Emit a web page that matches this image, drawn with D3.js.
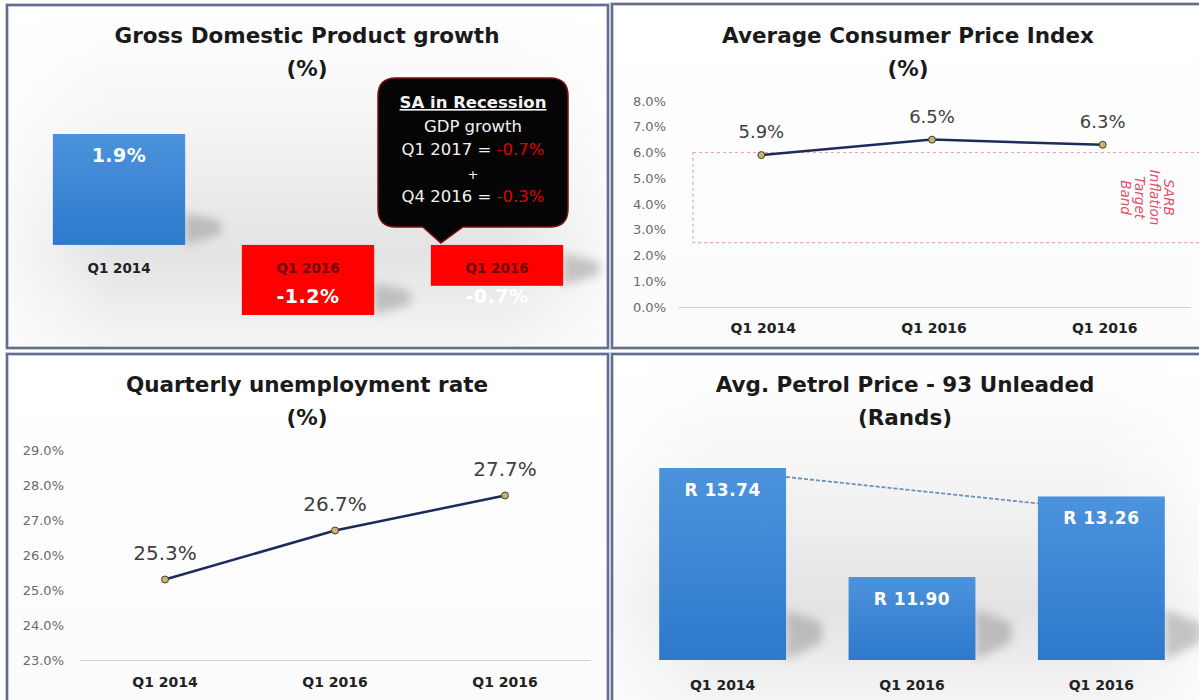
<!DOCTYPE html>
<html lang="en">
<head>
<meta charset="utf-8">
<title>SA economy dashboard</title>
<script src="https://cdn.jsdelivr.net/npm/d3@7"></script>
<style>
  body { margin: 0; background: #fff; }
  text { font-family: "DejaVu Sans", Verdana, sans-serif; }
</style>
</head>
<body>
<script>
// data
var gdpCats = ["Q1 2014", "Q1 2016", "Q1 2016"];
var gdpValues = [1.9, -1.2, -0.7];

var cpiCats = ["Q1 2014", "Q1 2016", "Q1 2016"];
var cpiValues = [5.9, 6.5, 6.3];
var cpiTicks = [0, 1, 2, 3, 4, 5, 6, 7, 8];
var cpiBand = [2.5, 6.0];

var unempCats = ["Q1 2014", "Q1 2016", "Q1 2016"];
var unempValues = [25.3, 26.7, 27.7];
var unempTicks = [23, 24, 25, 26, 27, 28, 29];

var petrolCats = ["Q1 2014", "Q1 2016", "Q1 2016"];
var petrolValues = [13.74, 11.90, 13.26];

var w = 1199, h = 700;
var svg = d3.select("body").append("svg")
    .attr("width", w).attr("height", h);
var defs = svg.append("defs");

// gradients
function vgrad(id, stops) {
    var g = defs.append("linearGradient").attr("id", id)
        .attr("x1", 0).attr("y1", 0).attr("x2", 0).attr("y2", 1);
    stops.forEach(function (s) {
        g.append("stop").attr("offset", s[0]).attr("stop-color", s[1])
            .attr("stop-opacity", s[2] == null ? 1 : s[2]);
    });
}
vgrad("bgGrey", [[0, "#ffffff"], [0.3, "#f7f7f7"], [0.72, "#e3e3e3"], [1, "#f5f5f5"]]);
vgrad("bgLight", [[0, "#ffffff"], [1, "#fbfbfb"]]);
vgrad("blueBar", [[0, "#4c93dc"], [1, "#2e79cc"]]);
var hg = defs.append("linearGradient").attr("id", "edgeFade")
    .attr("x1", 0).attr("y1", 0).attr("x2", 1).attr("y2", 0);
[[0, 0.75], [0.18, 0], [0.82, 0], [1, 0.75]].forEach(function (s) {
    hg.append("stop").attr("offset", s[0]).attr("stop-color", "#fff").attr("stop-opacity", s[1]);
});
defs.append("filter").attr("id", "blur").attr("x", "-50%").attr("y", "-50%")
    .attr("width", "200%").attr("height", "200%")
    .append("feGaussianBlur").attr("stdDeviation", 5);

// panels
var panels = [
    {x: 7, y: 5, w: 601, h: 343, bg: "bgGrey"},
    {x: 612, y: 4, w: 592, h: 344, bg: "bgLight"},
    {x: 7, y: 354, w: 601, h: 352, bg: "bgLight"},
    {x: 612, y: 354, w: 592, h: 352, bg: "bgGrey"}
];
panels.forEach(function (p) {
    svg.append("rect").attr("x", p.x).attr("y", p.y).attr("width", p.w).attr("height", p.h)
        .attr("fill", "url(#" + p.bg + ")");
    if (p.bg === "bgGrey") {
        svg.append("rect").attr("x", p.x).attr("y", p.y).attr("width", p.w).attr("height", p.h)
            .attr("fill", "url(#edgeFade)");
    }
    svg.append("rect").attr("x", p.x).attr("y", p.y).attr("width", p.w).attr("height", p.h)
        .attr("fill", "none").attr("stroke", "#c5cbe0").attr("stroke-width", 4);
    svg.append("rect").attr("x", p.x).attr("y", p.y).attr("width", p.w).attr("height", p.h)
        .attr("fill", "none").attr("stroke", "#4d5873").attr("stroke-width", 1.6);
});

function title(cx, y1, t1, t2) {
    svg.append("text").attr("x", cx).attr("y", y1).attr("text-anchor", "middle")
        .attr("font-size", "21.5px").attr("font-weight", "bold").attr("fill", "#1a1a1a").text(t1);
    svg.append("text").attr("x", cx).attr("y", y1 + 33).attr("text-anchor", "middle")
        .attr("font-size", "21.5px").attr("font-weight", "bold").attr("fill", "#1a1a1a").text(t2);
}

function shadow(r, b, hgt) {
    svg.append("polygon")
        .attr("points", [[r, b - hgt], [r + 36, b - hgt * 0.75], [r + 36, b - hgt * 0.35], [r, b]].join(" "))
        .attr("fill", "#7a7a7a").attr("opacity", 0.4).attr("filter", "url(#blur)");
}

// ---------- GDP ----------
title(307, 43, "Gross Domestic Product growth", "(%)");
var gx = d3.scaleBand().domain([0, 1, 2]).range([24.5, 591.5]).paddingInner(0.3).paddingOuter(0.15);
var gy = d3.scaleLinear().domain([-1.2, 1.9]).range([315, 134]);
gdpValues.forEach(function (v, i) {
    var top = gy(Math.max(0, v)), bot = gy(Math.min(0, v));
    shadow(gx(i) + gx.bandwidth(), bot, Math.min(32, bot - top));
});
svg.selectAll(".gbar").data(gdpValues).enter().append("rect")
    .attr("x", function (d, i) { return gx(i); })
    .attr("y", function (d) { return gy(Math.max(0, d)); })
    .attr("width", gx.bandwidth())
    .attr("height", function (d) { return Math.abs(gy(d) - gy(0)); })
    .attr("fill", function (d) { return d >= 0 ? "url(#blueBar)" : "#ff0000"; });
svg.selectAll(".gcat").data(gdpCats).enter().append("text")
    .attr("x", function (d, i) { return gx(i) + gx.bandwidth() / 2; })
    .attr("y", gy(0) + 28).attr("text-anchor", "middle")
    .attr("font-size", "13.5px").attr("font-weight", "bold")
    .attr("fill", function (d, i) { return gdpValues[i] >= 0 ? "#222" : "#6a0a0a"; })
    .text(function (d) { return d; });
svg.selectAll(".gval").data(gdpValues).enter().append("text")
    .attr("x", function (d, i) { return gx(i) + gx.bandwidth() / 2; })
    .attr("y", function (d) { return d >= 0 ? gy(d) + 28 : gy(0) + 58; })
    .attr("text-anchor", "middle").attr("font-size", "19px").attr("font-weight", "bold")
    .attr("letter-spacing", "0.5px").attr("fill", "#fff")
    .text(function (d) { return d.toFixed(1) + "%"; });

// callout
var cb = {x0: 378, x1: 568, y0: 78, y1: 227, r: 18};
var tipX = gx(2) + 10, tipY = gy(0) - 2;
var cp = d3.path();
cp.moveTo(cb.x0 + cb.r, cb.y0);
cp.lineTo(cb.x1 - cb.r, cb.y0);
cp.quadraticCurveTo(cb.x1, cb.y0, cb.x1, cb.y0 + cb.r);
cp.lineTo(cb.x1, cb.y1 - cb.r);
cp.quadraticCurveTo(cb.x1, cb.y1, cb.x1 - cb.r, cb.y1);
cp.lineTo(tipX + 22, cb.y1);
cp.lineTo(tipX, tipY);
cp.lineTo(tipX - 18, cb.y1);
cp.lineTo(cb.x0 + cb.r, cb.y1);
cp.quadraticCurveTo(cb.x0, cb.y1, cb.x0, cb.y1 - cb.r);
cp.lineTo(cb.x0, cb.y0 + cb.r);
cp.quadraticCurveTo(cb.x0, cb.y0, cb.x0 + cb.r, cb.y0);
cp.closePath();
svg.append("path").attr("d", cp.toString()).attr("fill", "#050505")
    .attr("stroke", "#7a1010").attr("stroke-width", 1.5);
var ccx = (cb.x0 + cb.x1) / 2;
var callLines = [
    ["SA in Recession", null],
    ["GDP growth", null],
    ["Q1 2017 = ", "-0.7%"],
    ["+", null],
    ["Q4 2016 = ", "-0.3%"]
];
callLines.forEach(function (l, i) {
    var t = svg.append("text").attr("x", ccx).attr("y", 108 + i * 23.5)
        .attr("text-anchor", "middle").attr("font-size", i == 3 ? "13px" : "16.5px").attr("fill", "#f2f2f2");
    if (i === 0) t.attr("font-weight", "bold").attr("text-decoration", "underline");
    t.append("tspan").text(l[0]);
    if (l[1]) t.append("tspan").attr("fill", "#e00000").text(l[1]);
});

// ---------- CPI ----------
title(908, 43, "Average Consumer Price Index", "(%)");
var cx = d3.scaleBand().domain([0, 1, 2]).range([678, 1190]);
var cy = d3.scaleLinear().domain([0, 8]).range([307, 101]);
svg.append("rect")
    .attr("x", 693).attr("y", cy(cpiBand[1]))
    .attr("width", 520).attr("height", cy(cpiBand[0]) - cy(cpiBand[1]))
    .attr("fill", "none").attr("stroke", "#f0a0b0").attr("stroke-width", 1.2)
    .attr("stroke-dasharray", "3,3");
var bandLbl = svg.append("text")
    .attr("transform", "translate(1146," + cy((cpiBand[0] + cpiBand[1]) / 2) + ") rotate(90)")
    .attr("text-anchor", "middle").attr("font-size", "13.5px").attr("font-style", "italic")
    .attr("fill", "#e0506a");
["SARB", "Inflation", "Target", "Band"].forEach(function (s, i) {
    bandLbl.append("tspan").attr("x", 0).attr("y", -18 + i * 14.5).text(s);
});
var cpiAxisY = svg.append("g").attr("transform", "translate(668,0)")
    .call(d3.axisLeft(cy).tickValues(cpiTicks).tickSize(0).tickPadding(2)
        .tickFormat(function (d) { return d.toFixed(1) + "%"; }));
var cpiAxisX = svg.append("g").attr("transform", "translate(0," + cy(0) + ")")
    .call(d3.axisBottom(cx).tickSize(0).tickPadding(16)
        .tickFormat(function (i) { return cpiCats[i]; }));
var cline = d3.line().x(function (d, i) { return cx(i) + cx.bandwidth() / 2 - 2; }).y(function (d) { return cy(d); });
svg.append("path").datum(cpiValues).attr("d", cline).attr("fill", "none")
    .attr("stroke", "#1c2a5c").attr("stroke-width", 2.5);
svg.selectAll(".cpt").data(cpiValues).enter().append("circle")
    .attr("cx", function (d, i) { return cx(i) + cx.bandwidth() / 2 - 2; })
    .attr("cy", function (d) { return cy(d); }).attr("r", 3.5)
    .attr("fill", "#c9b46a").attr("stroke", "#404030").attr("stroke-width", 1);
svg.selectAll(".clb").data(cpiValues).enter().append("text")
    .attr("x", function (d, i) { return cx(i) + cx.bandwidth() / 2 - 2; })
    .attr("y", function (d) { return cy(d) - 17; })
    .attr("text-anchor", "middle").attr("font-size", "18px").attr("fill", "#404040")
    .text(function (d) { return d.toFixed(1) + "%"; });

// ---------- Unemployment ----------
title(307, 392, "Quarterly unemployment rate", "(%)");
var ux = d3.scaleBand().domain([0, 1, 2]).range([80, 590]);
var uy = d3.scaleLinear().domain([23, 29]).range([660, 450]);
var unAxisY = svg.append("g").attr("transform", "translate(66,0)")
    .call(d3.axisLeft(uy).tickValues(unempTicks).tickSize(0).tickPadding(2)
        .tickFormat(function (d) { return d.toFixed(1) + "%"; }));
var unAxisX = svg.append("g").attr("transform", "translate(0," + uy(23) + ")")
    .call(d3.axisBottom(ux).tickSize(0).tickPadding(17)
        .tickFormat(function (i) { return unempCats[i]; }));
var uline = d3.line().x(function (d, i) { return ux(i) + ux.bandwidth() / 2; }).y(function (d) { return uy(d); });
svg.append("path").datum(unempValues).attr("d", uline).attr("fill", "none")
    .attr("stroke", "#1c2a5c").attr("stroke-width", 2.5);
svg.selectAll(".upt").data(unempValues).enter().append("circle")
    .attr("cx", function (d, i) { return ux(i) + ux.bandwidth() / 2; })
    .attr("cy", function (d) { return uy(d); }).attr("r", 3.5)
    .attr("fill", "#c9b46a").attr("stroke", "#404030").attr("stroke-width", 1);
svg.selectAll(".ulb").data(unempValues).enter().append("text")
    .attr("x", function (d, i) { return ux(i) + ux.bandwidth() / 2; })
    .attr("y", function (d) { return uy(d) - 20; })
    .attr("text-anchor", "middle").attr("font-size", "20px").attr("fill", "#404040")
    .text(function (d) { return d.toFixed(1) + "%"; });

[cpiAxisY, unAxisY].forEach(function (a) {
    a.select(".domain").remove();
    a.selectAll("text").attr("font-size", "13px").attr("fill", "#6a6a6a")
        .attr("font-family", "DejaVu Sans");
});
[cpiAxisX, unAxisX].forEach(function (a) {
    a.select(".domain").attr("stroke", "#d0d0d0").attr("stroke-width", 1.2);
    a.selectAll("text").attr("font-size", "14px").attr("font-weight", "bold")
        .attr("fill", "#222").attr("font-family", "DejaVu Sans");
});

// ---------- Petrol ----------
title(905, 392, "Avg. Petrol Price - 93 Unleaded", "(Rands)");
var px = d3.scaleBand().domain([0, 1, 2]).range([627, 1197]).paddingInner(0.33).paddingOuter(0.17);
var py = d3.scaleLinear().domain([10.5, 13.74]).range([660, 468]);
petrolValues.forEach(function (v, i) {
    shadow(px(i) + px.bandwidth(), py(10.5), 50);
});
svg.selectAll(".pbar").data(petrolValues).enter().append("rect")
    .attr("x", function (d, i) { return px(i); })
    .attr("y", function (d) { return py(d); })
    .attr("width", px.bandwidth())
    .attr("height", function (d) { return py(10.5) - py(d); })
    .attr("fill", "url(#blueBar)");
svg.append("line")
    .attr("x1", px(0) + px.bandwidth()).attr("y1", py(petrolValues[0]) + 9)
    .attr("x2", px(2)).attr("y2", py(petrolValues[2]) + 7)
    .attr("stroke", "#6d8fb8").attr("stroke-width", 1.8).attr("stroke-dasharray", "4,2");
svg.selectAll(".pval").data(petrolValues).enter().append("text")
    .attr("x", function (d, i) { return px(i) + px.bandwidth() / 2; })
    .attr("y", function (d) { return py(d) + 28; })
    .attr("text-anchor", "middle").attr("font-size", "17px").attr("font-weight", "bold")
    .attr("letter-spacing", "0.5px").attr("fill", "#fff")
    .text(function (d) { return "R " + d.toFixed(2); });
svg.selectAll(".pcat").data(petrolCats).enter().append("text")
    .attr("x", function (d, i) { return px(i) + px.bandwidth() / 2; })
    .attr("y", py(10.5) + 30).attr("text-anchor", "middle")
    .attr("font-size", "14px").attr("font-weight", "bold").attr("fill", "#222")
    .text(function (d) { return d; });
</script>
</body>
</html>
